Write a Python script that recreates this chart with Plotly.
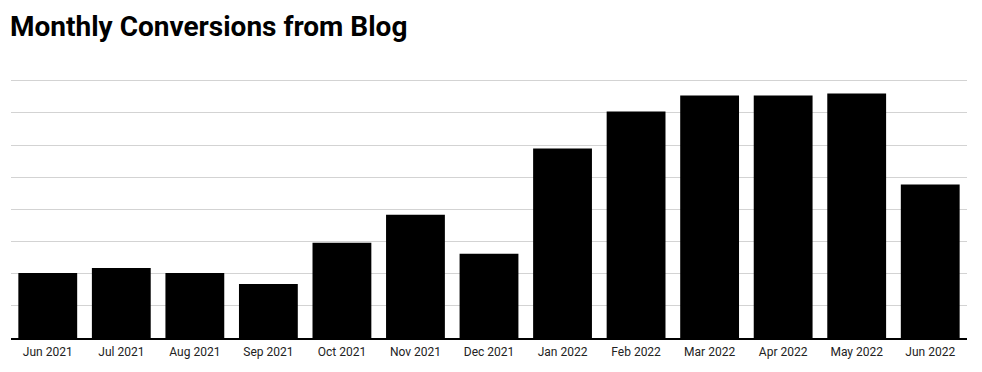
import plotly.graph_objects as go

months = ["Jun 2021", "Jul 2021", "Aug 2021", "Sep 2021", "Oct 2021", "Nov 2021",
          "Dec 2021", "Jan 2022", "Feb 2022", "Mar 2022", "Apr 2022", "May 2022", "Jun 2022"]
conversions = [20.2, 21.8, 20.2, 16.8, 29.6, 38.3, 26.2, 58.9, 70.4, 75.4, 75.4, 76.0, 47.7]
grid_values = [10, 20, 30, 40, 50, 60, 70, 80]

fig = go.Figure(go.Bar(x=months, y=conversions, marker=dict(color="#000000", line=dict(width=0))))

# page body has an 8px margin, so the figure is offset by 8px; compensate
fig.update_layout(
    width=974, height=364,
    margin=dict(l=3, r=15, t=69, b=34),
    paper_bgcolor="white", plot_bgcolor="white",
    bargap=0.2,
    showlegend=False,
    font=dict(family="Roboto", color="#222222"),
    title=dict(text="<b>Monthly Conversions from Blog</b>", x=2/974, xanchor="left",
               xref="container", y=1 - 18/364, yanchor="middle", yref="container",
               font=dict(family="Roboto", size=28, color="#000000")),
)
fig.update_xaxes(showline=True, linecolor="#000000", linewidth=1.5,
                 ticks="outside", ticklen=2, tickcolor="rgba(0,0,0,0)",
                 tickfont=dict(size=12, color="#222222"), showgrid=False)
fig.update_yaxes(range=[0, 81.15], tickvals=grid_values,
                 showticklabels=False, showgrid=True,
                 gridcolor="#d3d3d3", gridwidth=1, zeroline=False)

fig.write_html("out.html")
